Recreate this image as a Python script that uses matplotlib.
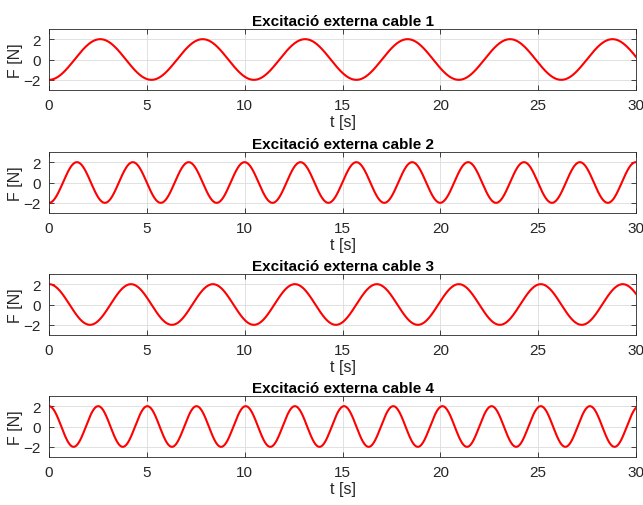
import numpy as np
import matplotlib
matplotlib.use("Agg")
import matplotlib.pyplot as plt

# amplituds [N], freq. angulars [rad/s] i fases de cada cable
titols = ["Excitació externa cable 1", "Excitació externa cable 2",
          "Excitació externa cable 3", "Excitació externa cable 4"]
amplituds = [2.0, 2.0, 2.0, 2.0]
omegues = [1.2, 2.2, 1.5, 2.5]
fases = [np.pi, np.pi, 0.0, 0.0]

t = np.linspace(0, 30, 3001)

plt.rcParams['font.family'] = ['Liberation Sans', 'DejaVu Sans']

fig = plt.figure(figsize=(6.43, 5.06), dpi=100)
W, H = 643, 506
tops = [30, 153, 275, 397]
alt = 61

for i in range(4):
    ax = fig.add_axes([49 / W, 1 - (tops[i] + alt) / H, 587 / W, alt / H])
    F = amplituds[i] * np.cos(omegues[i] * t + fases[i])
    ax.plot(t, F, color=(1, 0, 0), lw=1.5)
    ax.set_xlim(0, 30)
    ax.set_ylim(-3, 3)
    ax.set_xticks([0, 5, 10, 15, 20, 25, 30])
    ax.set_yticks([-2, 0, 2])
    ax.grid(True, color='#dcdcdc', lw=0.6)
    ax.set_axisbelow(True)
    ax.tick_params(direction='in', top=True, right=True, length=3.5,
                   width=0.6, color='#262626', labelsize=11, pad=6,
                   labelcolor='#262626')
    for s in ax.spines.values():
        s.set_color('#262626')
        s.set_linewidth(0.6)
    ax.set_title(titols[i], fontsize=11, fontweight='bold', pad=3)
    ax.set_xlabel("t [s]", fontsize=11.5, labelpad=1.5, color='#262626')
    ax.set_ylabel("F [N]", fontsize=11.5, labelpad=0, color='#262626')

fig.savefig("out.png", dpi=100, facecolor='white')
